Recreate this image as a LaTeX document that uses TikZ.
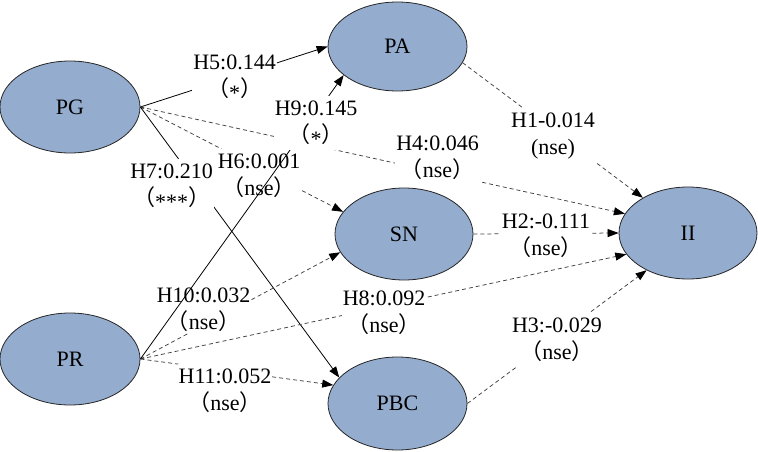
\documentclass[tikz,border=0pt]{standalone}
\usepackage{fontspec}
\setmainfont{Liberation Serif}
\newfontfamily\tnrfont{Liberation Serif}
\newfontfamily\cjkfont{Noto Sans CJK SC}
\usetikzlibrary{arrows.meta,shapes.geometric}
\newcommand{\zlp}{{\cjkfont （}}
\newcommand{\zrp}{{\cjkfont ）}}
\newcommand{\zst}{\raisebox{-4pt}{*}}
\definecolor{ellfill}{RGB}{148,172,205}
\begin{document}
\begin{tikzpicture}[x=1pt,y=1pt,
  every node/.style={font=\tnrfont\fontsize{22}{27}\selectfont},
  var/.style={ellipse, draw=black!85, line width=0.8pt, fill=ellfill, inner sep=0pt,
    minimum width=139pt, minimum height=92pt},
  lbl/.style={fill=white, align=center, inner xsep=1pt, inner ysep=0pt},
  sol/.style={draw=black, line width=0.8pt, -{Triangle[length=11pt,width=8pt]}},
  dsh/.style={draw=black!75, line width=0.75pt, dash pattern=on 4pt off 3pt,
    -{Triangle[length=11pt,width=8pt,color=black]}}]
\useasboundingbox (0,0) rectangle (758,451);
% constructs
\node[var, minimum width=140pt] (PG) at (70,344) {PG};
\node[var, minimum height=89pt] (PA) at (397.5,404.5) {PA};
\node[var, minimum width=138pt] (SN) at (404,217) {SN};
\node[var, minimum width=138pt] (II) at (688,218) {II};
\node[var, minimum width=140pt] (PR) at (70,92) {PR};
\node[var, minimum height=93pt] (PBC) at (397.5,47.5) {PBC};
% paths
\draw[sol] (PG.east) -- (PA.west);
\draw[dsh] (PG.east) -- (SN.160);
\draw[dsh] (PG.east) -- (II.163);
\draw[sol] (PG.east) -- (PBC.156);
\draw[dsh] (PA.-14) -- (II.142);
\draw[dsh] (SN.east) -- (II.west);
\draw[dsh] (PR.east) -- (II.199);
\draw[dsh] (PBC.east) -- (II.222);
\draw[dsh] (PR.east) -- (SN.196);
\draw[dsh] (PR.east) -- (PBC.164);
% labels
\node[lbl] (l5) at (234.5,373.9) {\strut H5:0.144\\\strut\zlp\zst\zrp};
\node[lbl] (l6) at (259,274.9) {\strut H6:0.001\\\strut\zlp nse\zrp};
\node[lbl] (l7) at (171.5,264.9) {\strut H7:0.210\\\strut\zlp\zst\zst\zst\zrp};
\node[lbl] (l4) at (437.5,292.9) {\strut H4:0.046\\\strut\zlp nse\zrp};
\node[lbl] (l1) at (553,315.9) {\strut H1-0.014\\\strut(nse)};
\node[lbl, inner ysep=-3pt] (l2) at (546,214.9) {\strut H2:-0.111\\\strut\zlp nse\zrp};
\node[lbl] (l8) at (384,137.9) {\strut H8:0.092\\\strut\zlp nse\zrp};
\node[lbl, inner ysep=-4.5pt] (l10) at (203.5,140.9) {\strut H10:0.032\\\strut\zlp nse\zrp};
\node[lbl] (l11) at (225,59.9) {\strut H11:0.052\\\strut\zlp nse\zrp};
\node[lbl] (l3) at (557,110.9) {\strut H3:-0.029\\\strut\zlp nse\zrp};
% PR -> PA drawn over the labels it crosses
\draw[sol] (PR.east) -- (PA.208);
\node[lbl] (l9) at (316,327.9) {\strut H9:0.145\\\strut\zlp\zst\zrp};
\end{tikzpicture}
\end{document}
